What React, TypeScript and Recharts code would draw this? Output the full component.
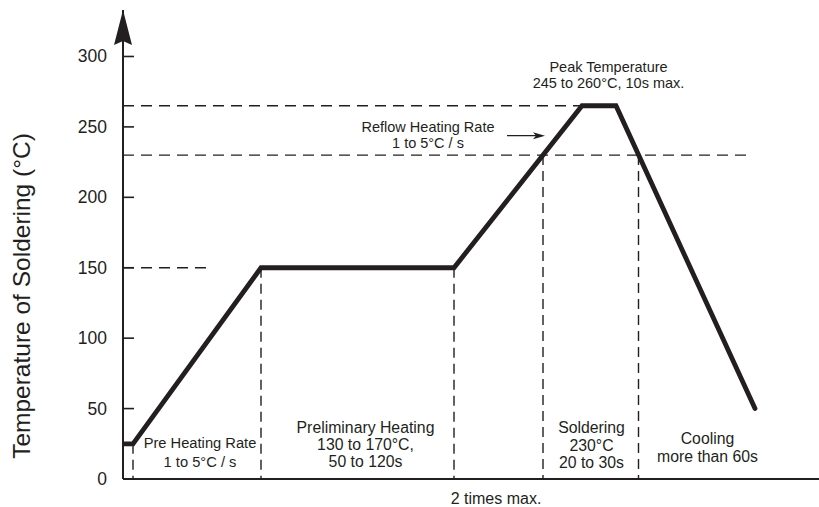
import { LineChart, Line, XAxis, YAxis, ReferenceLine, ReferenceDot } from 'recharts';

// reflow profile: time (arbitrary units) vs temperature (°C)
const times = [0, 10, 138, 331, 459, 493, 632];
const temps = [25, 25, 150, 150, 265, 265, 50];
const yTicks = [0, 50, 100, 150, 200, 250, 300];

const preHeatLines = ['Pre Heating Rate', '1 to 5°C / s'];
const prelimLines = ['Preliminary Heating', '130 to 170°C,', '50 to 120s'];
const solderLines = ['Soldering', '230°C', '20 to 30s'];
const coolLines = ['Cooling', 'more than 60s'];
const peakLines = ['Peak Temperature', '245 to 260°C, 10s max.'];
const reflowLines = ['Reflow Heating Rate', '1 to 5°C / s'];
const bottomNote = ['2 times max.'];

const data = times.map((t, i) => ({ t, temp: temps[i] }));

const INK = '#231f20';
const FONT = '"Liberation Sans", Arial, sans-serif';

const YTick = (props: any) => {
  const { x, y, payload } = props;
  return (
    <g>
      <line x1={x} x2={x + 11} y1={y} y2={y} stroke={INK} strokeWidth={1.6} />
      <text x={x - 16} y={y} textAnchor="end" dominantBaseline="central" fontSize={17.5} fontFamily={FONT} fill={INK}>
        {payload.value}
      </text>
    </g>
  );
};

const textBlock = (lines: string[], size: number, gap: number) => (props: any) => {
  const { cx, cy } = props;
  const top = cy - ((lines.length - 1) * gap) / 2;
  return (
    <g>
      {lines.map((s, i) => (
        <text key={i} x={cx} y={top + i * gap} textAnchor="middle" dominantBaseline="central"
          fontSize={size} fontFamily={FONT} fill={INK}>
          {s}
        </text>
      ))}
    </g>
  );
};

const AxisArrow = (props: any) => {
  const { cx, cy } = props;
  return <polygon points={`${cx},${cy} ${cx + 9},${cy + 35} ${cx},${cy + 31} ${cx - 9},${cy + 35}`} fill={INK} />;
};

const SmallArrow = (props: any) => {
  const { cx, cy } = props;
  return (
    <g>
      <line x1={cx - 38} x2={cx - 4} y1={cy} y2={cy} stroke={INK} strokeWidth={1.4} />
      <polygon points={`${cx},${cy} ${cx - 12},${cy - 3.5} ${cx - 9},${cy} ${cx - 12},${cy + 3.5}`} fill={INK} />
    </g>
  );
};

const dash = { stroke: INK, strokeWidth: 1.3, strokeDasharray: '11 7' };
const vdash = { stroke: INK, strokeWidth: 1.4, strokeDasharray: '10 6' };

export default function App() {
  return (
    <div style={{ position: 'absolute', left: 0, top: 0, width: 819, height: 507, background: '#fff' }}>
      <LineChart width={819} height={507} data={data} margin={{ top: 10, right: 0, bottom: 0, left: 0 }}>
        <XAxis dataKey="t" type="number" domain={[0, 696]} height={28} tick={false} tickLine={false}
          axisLine={{ stroke: INK, strokeWidth: 2 }} allowDataOverflow />
        <YAxis type="number" domain={[0, 333]} ticks={yTicks} width={123} tickSize={0} tickMargin={0}
          tickLine={false} tick={<YTick />} axisLine={{ stroke: INK, strokeWidth: 2 }} interval={0} allowDataOverflow />

        <ReferenceLine segment={[{ x: 0, y: 0 }, { x: 696, y: 0 }]} stroke={INK} strokeWidth={2} ifOverflow="visible" />

        <ReferenceLine segment={[{ x: 0, y: 150 }, { x: 88, y: 150 }]} {...dash} />
        <ReferenceLine segment={[{ x: 0, y: 265 }, { x: 459, y: 265 }]} {...dash} />
        <ReferenceLine segment={[{ x: 0, y: 230 }, { x: 628, y: 230 }]} {...dash} />

        <ReferenceLine segment={[{ x: 10, y: 25 }, { x: 10, y: 0 }]} {...vdash} />
        <ReferenceLine segment={[{ x: 138, y: 150 }, { x: 138, y: 0 }]} {...vdash} />
        <ReferenceLine segment={[{ x: 331, y: 150 }, { x: 331, y: 0 }]} {...vdash} />
        <ReferenceLine segment={[{ x: 420, y: 230 }, { x: 420, y: 0 }]} {...vdash} />
        <ReferenceLine segment={[{ x: 515.5, y: 230 }, { x: 515.5, y: 0 }]} {...vdash} />

        <Line type="linear" dataKey="temp" stroke={INK} strokeWidth={4.8} dot={false}
          strokeLinejoin="miter" strokeLinecap="round" isAnimationActive={false} />

        <ReferenceDot x={0} y={333} r={0} ifOverflow="visible" shape={<AxisArrow />} />
        <ReferenceDot x={422} y={243.8} r={0} ifOverflow="visible" shape={<SmallArrow />} />

        <ReferenceDot x={77} y={18.8} r={0} ifOverflow="visible" shape={textBlock(preHeatLines, 14.7, 19)} />
        <ReferenceDot x={242.5} y={24.2} r={0} ifOverflow="visible" shape={textBlock(prelimLines, 15.8, 17)} />
        <ReferenceDot x={468.5} y={23.8} r={0} ifOverflow="visible" shape={textBlock(solderLines, 15.8, 17.5)} />
        <ReferenceDot x={584.5} y={22.7} r={0} ifOverflow="visible" shape={textBlock(coolLines, 15.8, 18)} />
        <ReferenceDot x={485.5} y={286.8} r={0} ifOverflow="visible" shape={textBlock(peakLines, 14.5, 15.5)} />
        <ReferenceDot x={305} y={244.2} r={0} ifOverflow="visible" shape={textBlock(reflowLines, 14.5, 16.5)} />
        <ReferenceDot x={373} y={-13.5} r={0} ifOverflow="visible" shape={textBlock(bottomNote, 16, 18)} />
      </LineChart>
      <svg width={60} height={507} style={{ position: 'absolute', left: 0, top: 0, pointerEvents: 'none' }}>
        <text x={30} y={296} transform="rotate(-90 30 296)" textAnchor="middle" fontSize={24.5} fontFamily={FONT} fill={INK}>
          Temperature of Soldering (°C)
        </text>
      </svg>
    </div>
  );
}
